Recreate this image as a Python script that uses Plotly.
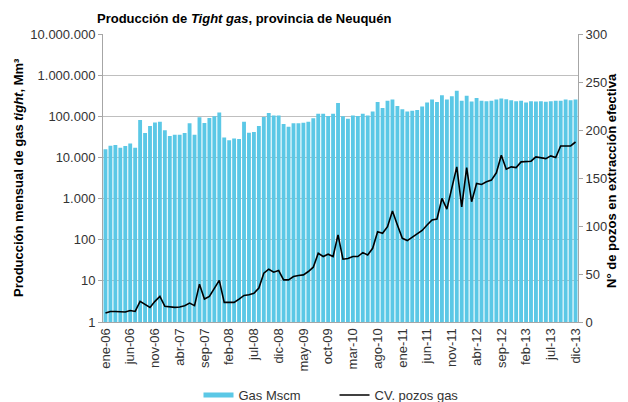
import plotly.graph_objects as go

months_es = ["ene", "feb", "mar", "abr", "may", "jun", "jul", "ago", "sep", "oct", "nov", "dic"]
categories = [f"{m}-{y:02d}" for y in range(6, 14) for m in months_es]

gas_mscm = [
    15700, 19300, 20000, 17200, 18900, 21900, 17200, 81000, 39000, 58000,
    71000, 74000, 46000, 33000, 35700, 35700, 39000, 67500, 35700, 95000,
    69000, 91000, 100000, 123000, 30700, 26000, 29000, 28000, 74000, 40000,
    41500, 58000, 96000, 120000, 105000, 105000, 65000, 56000, 67500, 67500,
    70000, 74000, 89000, 116000, 116000, 102000, 116000, 211000, 100000, 87000,
    105000, 102000, 116000, 105000, 130000, 223000, 160000, 237000, 255000, 178000,
    148000, 130000, 137000, 142000, 172000, 215000, 255000, 223000, 325000, 255000,
    307000, 415000, 240000, 315000, 228000, 280000, 240000, 233000, 240000, 255000,
    270000, 260000, 245000, 233000, 240000, 215000, 233000, 228000, 233000, 225000,
    233000, 240000, 240000, 255000, 245000, 255000,
]

pozos = [
    9.3, 11, 11, 10.4, 10.4, 12, 11, 21.5, 18, 15.2,
    21.5, 26.6, 16.3, 15.6, 15.2, 15.6, 17, 19.7, 17, 39.4,
    23.9, 26.6, 35.3, 43.3, 20.4, 20.4, 20.4, 23.9, 27.7, 28.4,
    30, 35.3, 50.9, 55, 51.9, 53.6, 43.9, 43.9, 47.4, 48.4,
    49.1, 52.6, 57.1, 71.6, 68.2, 70.6, 68.2, 90.7, 65.4, 66.1,
    68.2, 68.2, 72.3, 69.9, 76.8, 94.1, 92.4, 99.3, 115.6, 101,
    87.2, 84.8, 88.2, 91.7, 95.3, 101, 106.2, 107.3, 128.7, 117.6,
    140.8, 161.6, 120, 160.9, 125.3, 144.3, 143.3, 146, 147.8, 155.4,
    173.7, 159.2, 161.6, 160.9, 166.8, 166.8, 167.5, 172, 171.3, 170.2,
    173, 171.3, 183.4, 183.4, 183.4, 187.5,
]

left_tickvals = [1, 10, 100, 1000, 10000, 100000, 1000000, 10000000]
left_ticktext = ["1", "10", "100", "1.000", "10.000", "100.000", "1.000.000", "10.000.000"]
right_tickvals = [0, 50, 100, 150, 200, 250, 300]

x_idx = list(range(len(categories)))
x_tickvals = x_idx[::5]
x_ticktext = categories[::5]

BAR_COLOR = "#5BC8E6"
FONT = "Liberation Sans, Arial, sans-serif"
AXIS_GREY = "#A6A6A6"

fig = go.Figure()
fig.add_trace(go.Bar(
    x=x_idx, y=gas_mscm, name="Gas Mscm", marker_color=BAR_COLOR,
    marker_line_width=0, showlegend=False, yaxis="y",
))
fig.add_trace(go.Scatter(
    x=x_idx, y=pozos, name="CV. pozos gas", mode="lines",
    line=dict(color="black", width=1.6), showlegend=False, yaxis="y2",
))
# legend-only entries (line swatches like the reference)
fig.add_trace(go.Scatter(x=[None], y=[None], mode="lines",
                         name="Gas Mscm" + "&nbsp;" * 8,
                         line=dict(color=BAR_COLOR, width=5)))
fig.add_trace(go.Scatter(x=[None], y=[None], mode="lines", name="CV. pozos gas",
                         line=dict(color="black", width=1.6)))

fig.update_layout(
    width=628, height=402,
    margin=dict(l=103, r=50, t=34, b=80, autoexpand=False),
    paper_bgcolor="white", plot_bgcolor="white",
    font=dict(family=FONT, size=13, color="#333333"),
    bargap=0.22,
    title=dict(
        text="<b>Producción de <i>Tight gas</i>, provincia de Neuquén</b>",
        x=97 / 628, xref="container", xanchor="left",
        y=1 - 18 / 402, yref="container", yanchor="middle",
        font=dict(size=13, color="black"),
    ),
    xaxis=dict(
        range=[-0.5, len(categories) - 0.5],
        tickvals=x_tickvals, ticktext=x_ticktext, tickangle=-90,
        showgrid=False, showline=True, linecolor=AXIS_GREY, linewidth=1,
        ticks="", tickfont=dict(size=13, color="#333333"), automargin=False,
    ),
    yaxis=dict(
        type="log", range=[0, 7],
        tickvals=left_tickvals, ticktext=left_ticktext,
        showgrid=True, gridcolor="#BFBFBF", gridwidth=1,
        showline=True, linecolor=AXIS_GREY, linewidth=1,
        ticks="outside", ticklen=4, tickcolor=AXIS_GREY, automargin=False,
    ),
    yaxis2=dict(
        overlaying="y", side="right", range=[0, 300],
        tickvals=right_tickvals, showgrid=False,
        showline=True, linecolor=AXIS_GREY, linewidth=1,
        ticks="outside", ticklen=4, tickcolor=AXIS_GREY,
        zeroline=False, automargin=False,
    ),
    legend=dict(
        orientation="h", x=331 / 628, xanchor="center", xref="container",
        y=(402 - 395) / 402, yanchor="middle", yref="container",
        font=dict(size=13, color="#333333"),
        itemwidth=30, traceorder="normal",
    ),
    annotations=[
        dict(text="<b>Producción mensual de gas <i>tight</i>, Mm³</b>",
             xref="paper", yref="paper", x=(18 - 103) / 475, y=0.5,
             xanchor="center", yanchor="middle", textangle=-90, showarrow=False,
             font=dict(size=13, color="black")),
        dict(text="<b>N° de pozos en extracción efectiva</b>",
             xref="paper", yref="paper", x=(612 - 103) / 475, y=0.49,
             xanchor="center", yanchor="middle", textangle=-90, showarrow=False,
             font=dict(size=13, color="black")),
    ],
)

fig.write_html("out.html", config={"displayModeBar": False},
               post_script="document.body.style.margin='0';")
